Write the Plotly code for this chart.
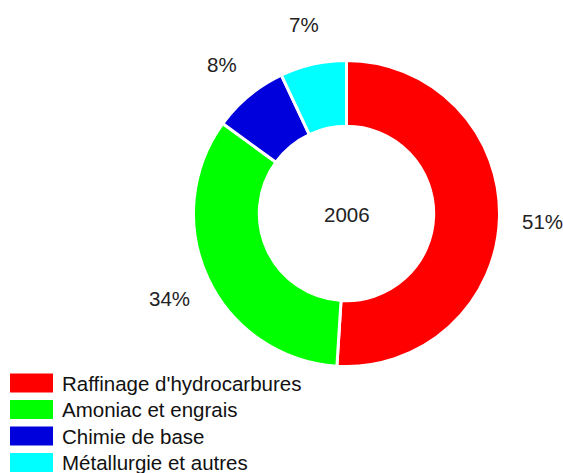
import math
import plotly.graph_objects as go

# share of hydrogen consumption by sector, 2006
categories = ["Raffinage d'hydrocarbures", "Amoniac et engrais", "Chimie de base", "Métallurgie et autres"]
shares = [51, 34, 8, 7]
colors = ["#ff0000", "#00ff00", "#0000dd", "#00ffff"]
center_label = "2006"

W, H = 563, 473
FONT = "Liberation Sans, Arial, sans-serif"

# donut geometry in pixels (from top-left)
cx, cy, R = 346.5, 213.5, 153

fig = go.Figure(go.Pie(
    labels=categories,
    values=shares,
    marker=dict(colors=colors, line=dict(color="white", width=3)),
    hole=0.57,
    sort=False,
    direction="clockwise",
    rotation=0,
    textinfo="none",
    hoverinfo="label+percent",
    showlegend=False,
    domain=dict(x=[(cx - R) / W, (cx + R) / W], y=[1 - (cy + R) / H, 1 - (cy - R) / H]),
))

# percentage labels outside the ring, placed at each slice's mid angle
total = sum(shares)
cum = 0
for v in shares:
    mid = math.radians((cum + v / 2) / total * 360)
    cum += v
    lx = cx + 1.28 * R * math.sin(mid)
    ly = cy - 1.28 * R * math.cos(mid) + 2
    fig.add_annotation(x=lx / W, y=1 - ly / H, xref="paper", yref="paper",
                       text=f"{round(v / total * 100)}%", showarrow=False,
                       xanchor="center", yanchor="middle",
                       font=dict(family=FONT, size=20.5, color="#222"))

fig.add_annotation(x=cx / W, y=1 - (cy + 1) / H, xref="paper", yref="paper",
                   text=center_label, showarrow=False,
                   xanchor="center", yanchor="middle",
                   font=dict(family=FONT, size=20.5, color="#222"))

# legend with large colour swatches
for i, (name, c) in enumerate(zip(categories, colors)):
    yc = 383 + i * 26.5
    fig.add_shape(type="rect", xref="paper", yref="paper",
                  x0=10 / W, x1=53 / W, y0=1 - (yc + 9.5) / H, y1=1 - (yc - 9.5) / H,
                  fillcolor=c, line=dict(width=0))
    fig.add_annotation(x=60 / W, y=1 - yc / H, xref="paper", yref="paper",
                       text=name, showarrow=False, xanchor="left", yanchor="middle",
                       font=dict(family=FONT, size=20.5, color="#111"))

fig.update_layout(
    width=W, height=H,
    margin=dict(l=0, r=0, t=0, b=0),
    paper_bgcolor="white",
    plot_bgcolor="white",
)

fig.write_html("out.html", config={"displayModeBar": False},
               post_script="document.body.style.margin='0';")
